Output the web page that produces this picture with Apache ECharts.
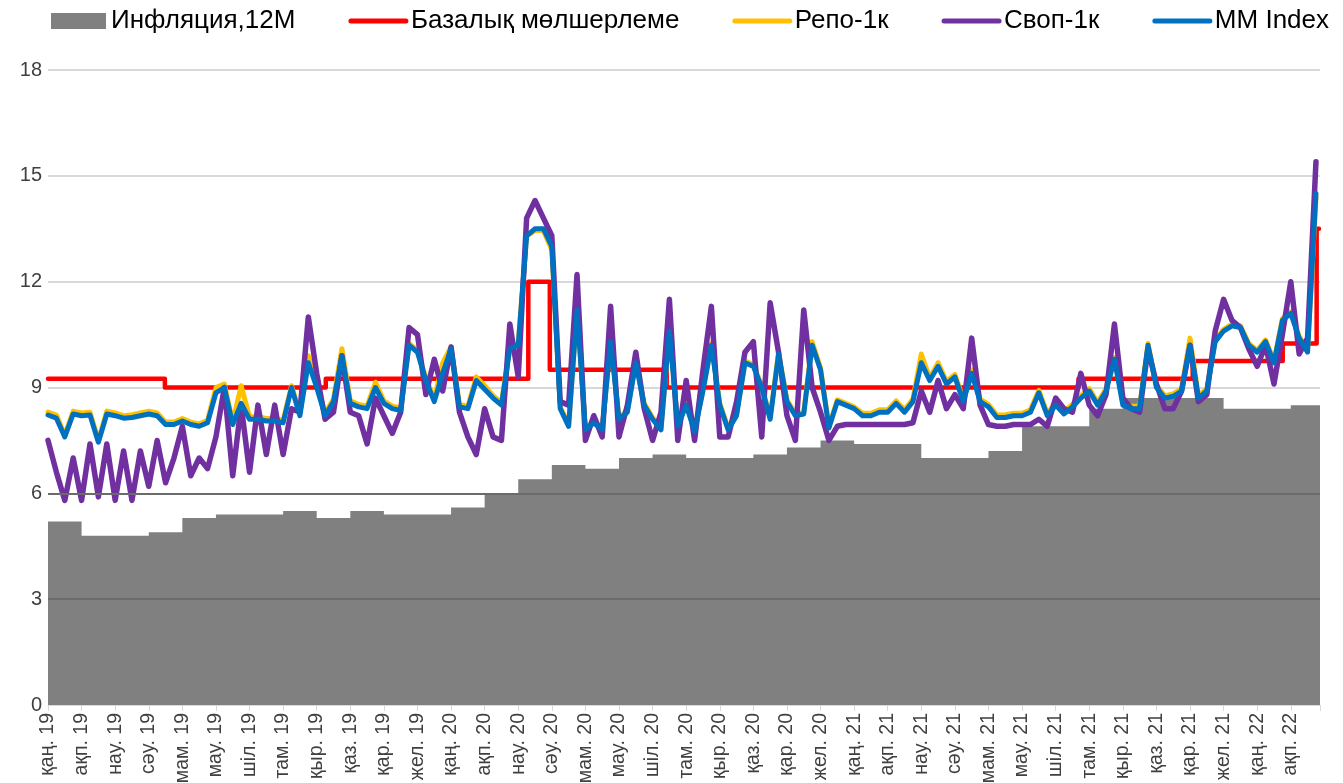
<!DOCTYPE html>
<html>
<head>
<meta charset="utf-8">
<title>Инфляция және ақша нарығының мөлшерлемелері</title>
<script src="https://cdn.jsdelivr.net/npm/echarts@6/dist/echarts.min.js"></script>
<style>
  html, body { margin: 0; padding: 0; background: #fff; }
  #chart { width: 1343px; height: 783px; }
</style>
</head>
<body>
<div id="chart"></div>
<script>
const FONT = '"Liberation Sans", Arial, sans-serif'

// x axis: months since Jan 2019
const monthNames = ['қаң.', 'ақп.', 'нау.', 'сәу.', 'мам.', 'мау.', 'шіл.', 'там.', 'қыр.', 'қаз.', 'қар.', 'жел.']
const yearNames = ['19', '20', '21', '22']
const xEnd = 37.87

// 12M inflation, one value per month (Jan 2019 .. Feb 2022)
const inflation = [5.2, 4.8, 4.8, 4.9, 5.3, 5.4, 5.4, 5.5, 5.3, 5.5, 5.4, 5.4,
  5.6, 6.0, 6.4, 6.8, 6.7, 7.0, 7.1, 7.0, 7.0, 7.1, 7.3, 7.5,
  7.4, 7.4, 7.0, 7.0, 7.2, 7.9, 7.9, 8.4, 8.7, 8.7, 8.7, 8.4,
  8.4, 8.5]

// base rate: month (fractional) of each change and the new level
const baseRateDates = [0, 3.48, 8.27, 14.3, 14.94, 18.42, 30.68, 34.08, 36.76, 37.77]
const baseRateValues = [9.25, 9.0, 9.25, 12.0, 9.5, 9.0, 9.25, 9.75, 10.25, 13.5]

// weekly readings, one every quarter of a month
const weekStep = 0.25
const mmIndex = [
  8.22, 8.13, 7.6, 8.25, 8.2, 8.22, 7.45, 8.25, 8.2, 8.13,
  8.15, 8.2, 8.25, 8.2, 7.95, 7.95, 8.05, 7.95, 7.9, 8.0,
  8.85, 9.0, 7.95, 8.55, 8.1, 8.1, 8.05, 8.05, 8.0, 9.0,
  8.2, 9.7, 9.0, 8.2, 8.6, 9.9, 8.55, 8.45, 8.4, 9.0,
  8.55, 8.4, 8.35, 10.2, 10.0, 9.2, 8.6, 9.4, 10.1, 8.45,
  8.4, 9.2, 8.95, 8.7, 8.5, 10.1, 10.2, 13.3, 13.5, 13.5,
  13.0, 8.4, 7.9, 11.2, 7.8, 8.0, 7.8, 10.3, 8.1, 8.3,
  9.7, 8.5, 8.1, 7.8, 10.6, 7.9, 8.5, 7.75, 8.9, 10.2,
  8.5, 7.8, 8.2, 9.7, 9.6, 9.0, 8.1, 9.95, 8.6, 8.2,
  8.25, 10.2, 9.5, 7.85, 8.6, 8.5, 8.4, 8.2, 8.2, 8.3,
  8.3, 8.55, 8.3, 8.6, 9.7, 9.2, 9.6, 9.1, 9.3, 8.6,
  9.4, 8.6, 8.45, 8.15, 8.15, 8.2, 8.2, 8.3, 8.85, 8.2,
  8.5, 8.25, 8.45, 8.7, 8.9, 8.5, 8.9, 9.8, 8.5, 8.4,
  8.4, 10.2, 9.0, 8.7, 8.75, 8.9, 10.2, 8.7, 8.9, 10.3,
  10.6, 10.75, 10.7, 10.2, 10.0, 10.3, 9.7, 10.9, 11.1, 10.4,
  10.0, 14.5
]
const swap = [
  7.5, 6.6, 5.8, 7.0, 5.8, 7.4, 5.9, 7.4, 5.8, 7.2,
  5.8, 7.2, 6.2, 7.5, 6.3, 7.0, 7.9, 6.5, 7.0, 6.7,
  7.6, 9.0, 6.5, 8.5, 6.6, 8.5, 7.1, 8.5, 7.1, 8.4,
  8.3, 11.0, 9.4, 8.1, 8.3, 9.9, 8.3, 8.2, 7.4, 8.7,
  8.2, 7.7, 8.3, 10.7, 10.5, 8.8, 9.8, 8.9, 10.15, 8.3,
  7.6, 7.1, 8.4, 7.6, 7.5, 10.8, 9.3, 13.8, 14.3, 13.8,
  13.3, 8.6, 8.5, 12.2, 7.5, 8.2, 7.6, 11.3, 7.6, 8.5,
  10.0, 8.4, 7.5, 8.3, 11.5, 7.5, 9.2, 7.5, 9.5, 11.3,
  7.6, 7.6, 8.6, 10.0, 10.3, 7.6, 11.4, 10.0, 8.2, 7.5,
  11.2, 9.0, 8.3, 7.5, 7.9, 7.95, 7.95, 7.95, 7.95, 7.95,
  7.95, 7.95, 7.95, 8.0, 8.9, 8.3, 9.2, 8.4, 8.8, 8.4,
  10.4, 8.5, 7.95, 7.9, 7.9, 7.95, 7.95, 7.95, 8.1, 7.9,
  8.7, 8.4, 8.3, 9.4, 8.5, 8.2, 8.8, 10.8, 8.7, 8.4,
  8.3, 10.1, 9.1, 8.4, 8.4, 8.9, 10.2, 8.6, 8.8, 10.6,
  11.5, 10.9, 10.7, 10.1, 9.6, 10.2, 9.1, 10.5, 12.0, 9.95,
  10.4, 15.4
]
const repo = [
  8.3, 8.22, 7.65, 8.33, 8.28, 8.3, 7.5, 8.33, 8.28, 8.2,
  8.23, 8.28, 8.33, 8.28, 8.02, 8.02, 8.12, 8.02, 7.97, 8.07,
  9.0, 9.1, 8.02, 9.05, 8.17, 8.17, 8.12, 8.12, 8.07, 9.05,
  8.27, 9.9, 9.1, 8.27, 8.67, 10.1, 8.62, 8.52, 8.47, 9.15,
  8.62, 8.47, 8.42, 10.25, 10.05, 9.27, 8.67, 9.7, 10.15, 8.52,
  8.47, 9.3, 9.05, 8.77, 8.57, 10.15, 10.25, 13.3, 13.45, 13.45,
  12.9, 8.45, 7.95, 11.2, 7.85, 8.05, 7.85, 10.3, 8.15, 8.35,
  9.75, 8.55, 8.15, 7.85, 10.6, 7.95, 8.55, 7.8, 8.95, 10.25,
  8.55, 7.85, 8.25, 9.75, 9.65, 9.05, 8.15, 10.0, 8.65, 8.25,
  8.3, 10.3, 9.55, 7.9, 8.65, 8.55, 8.45, 8.27, 8.27, 8.37,
  8.37, 8.62, 8.37, 8.67, 9.95, 9.27, 9.7, 9.17, 9.37, 8.67,
  9.5, 8.67, 8.52, 8.22, 8.22, 8.27, 8.27, 8.37, 8.92, 8.27,
  8.57, 8.32, 8.52, 8.77, 8.97, 8.57, 8.97, 9.85, 8.57, 8.47,
  8.47, 10.25, 9.05, 8.77, 8.82, 8.97, 10.4, 8.77, 8.97, 10.35,
  10.65, 10.8, 10.75, 10.25, 10.05, 10.35, 9.75, 10.95, 11.15, 10.45,
  10.05, 14.4
]

const monthLabels = []
yearNames.forEach(y => monthNames.forEach(m => monthLabels.push(m + ' ' + y)))

const weekly = arr => arr.map((v, i) => [i * weekStep, v])
const inflationPts = inflation.map((v, i) => [i, v]).concat([[xEnd, inflation[inflation.length - 1]]])
const basePts = baseRateDates.map((d, i) => [d, baseRateValues[i]]).concat([[37.84, baseRateValues[baseRateValues.length - 1]]])

const chart = echarts.init(document.getElementById('chart'))

const lineSeries = (name, data, color, width) => ({
  name: name,
  type: 'line',
  data: data,
  symbol: 'none',
  itemStyle: { color: color },
  lineStyle: { color: color, width: width, join: 'round', cap: 'round' }
})

chart.setOption({
  animation: false,
  textStyle: { fontFamily: FONT },
  grid: { left: 48, right: 23, top: 70, bottom: 78, outerBoundsMode: 'none' },
  legend: {
    left: 46,
    top: 3,
    width: 1297,
    itemWidth: 55,
    itemHeight: 16,
    itemGap: 53,
    itemStyle: { opacity: 0 },   // hide the marker dot on line icons
    lineStyle: { width: 5, cap: 'round' },
    textStyle: { fontSize: 26, color: '#000', fontFamily: FONT },
    data: [
      { name: 'Инфляция,12М', icon: 'rect', itemStyle: { opacity: 1 } },
      'Базалық мөлшерлеме', 'Репо-1к', 'Своп-1к', 'MM Index'
    ]
  },
  xAxis: {
    type: 'value',
    min: 0,
    max: xEnd,
    interval: 1,
    axisLine: { show: true, lineStyle: { color: '#d9d9d9' } },
    axisTick: { show: true, length: 6, lineStyle: { color: '#d9d9d9' } },
    splitLine: { show: false },
    axisLabel: {
      rotate: 90,
      fontSize: 19.5,
      color: '#404040',
      fontFamily: FONT,
      margin: 8,
      formatter: v => (Number.isInteger(v) && monthLabels[v]) ? monthLabels[v] : ''
    }
  },
  yAxis: {
    type: 'value',
    min: 0,
    max: 18,
    interval: 3,
    axisLine: { show: false },
    axisTick: { show: false },
    axisLabel: { fontSize: 20, color: '#404040', fontFamily: FONT, margin: 6 },
    splitLine: { lineStyle: { color: '#d9d9d9', width: 2 } }
  },
  series: [
    {
      name: 'Инфляция,12М',
      type: 'line',
      step: 'end',
      data: inflationPts,
      symbol: 'none',
      itemStyle: { color: '#808080' },
      lineStyle: { width: 0 },
      areaStyle: { color: '#808080', opacity: 1 },
      markLine: {
        silent: true,
        symbol: 'none',
        label: { show: false },
        lineStyle: { color: '#6b6b6b', width: 2, type: 'solid' },
        data: [{ yAxis: 3 }, { yAxis: 6 }]
      }
    },
    Object.assign(lineSeries('Базалық мөлшерлеме', basePts, '#ff0000', 4.5), { step: 'end' }),
    lineSeries('Репо-1к', weekly(repo), '#ffc000', 5),
    lineSeries('Своп-1к', weekly(swap), '#7030a0', 5.5),
    lineSeries('MM Index', weekly(mmIndex), '#0070c0', 5)
  ]
})
</script>
</body>
</html>
